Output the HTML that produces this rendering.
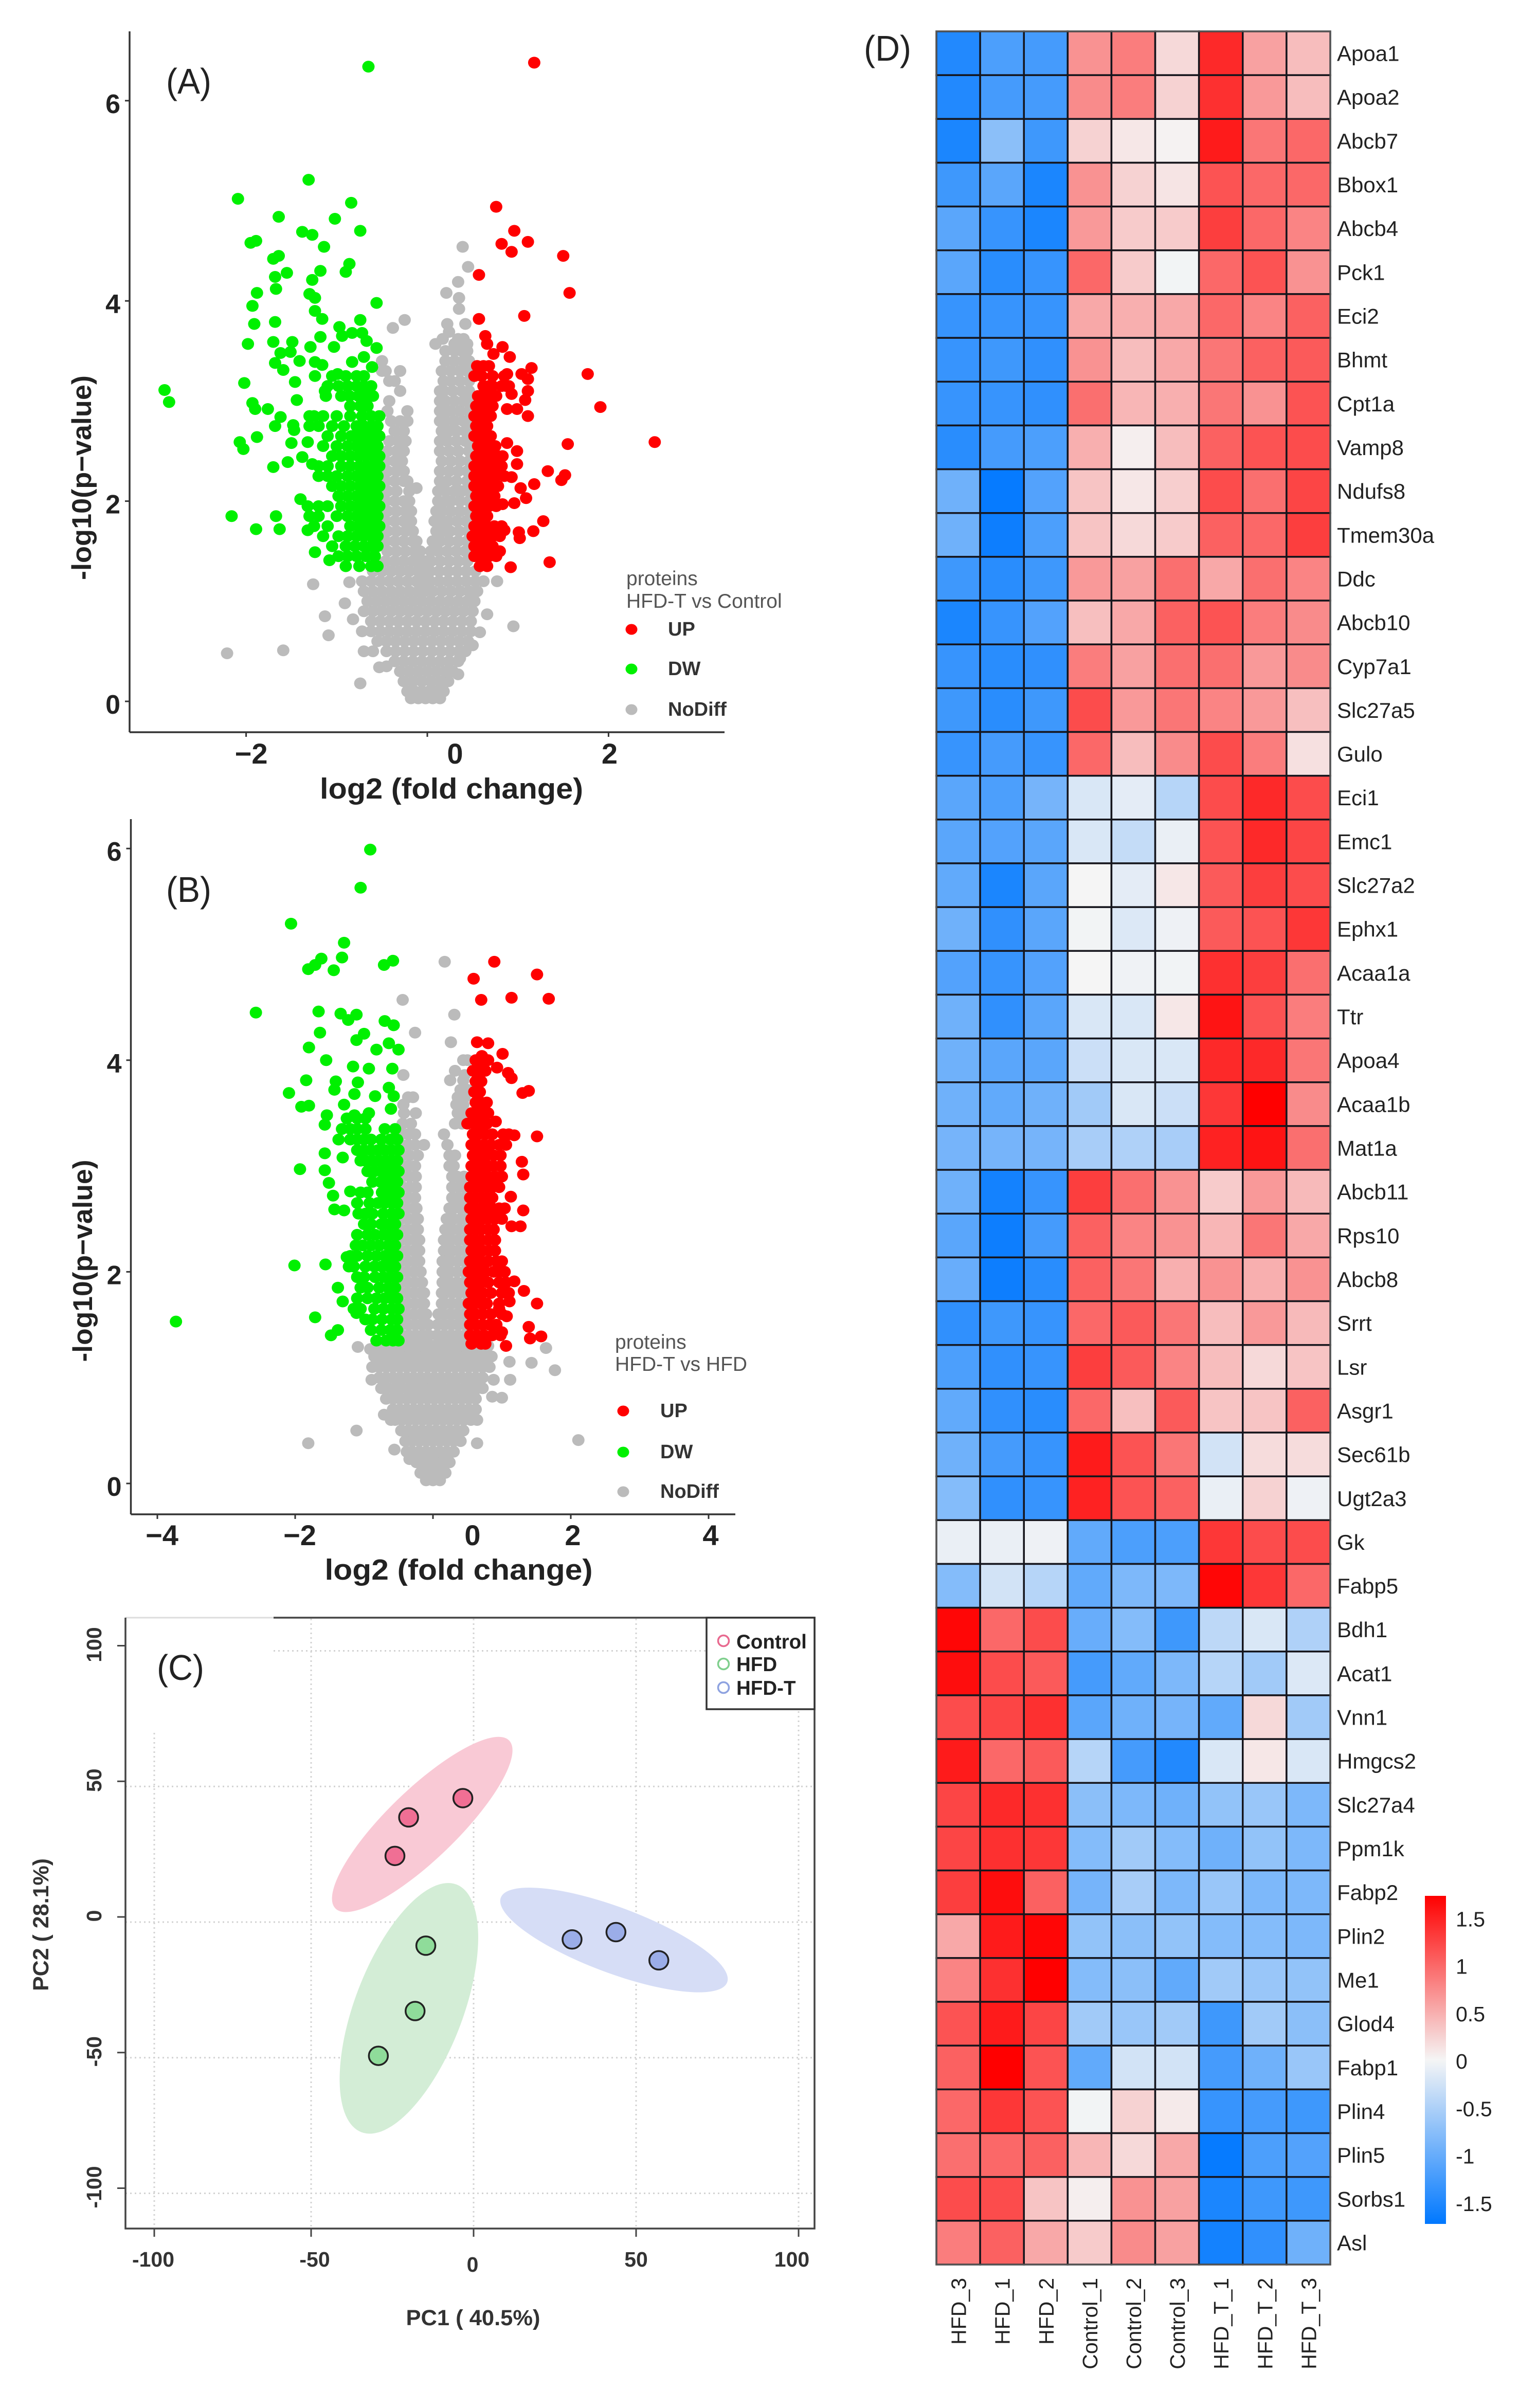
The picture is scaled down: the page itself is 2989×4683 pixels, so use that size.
<!DOCTYPE html>
<html lang="en">
<head>
<meta charset="utf-8">
<title>Volcano plots, PCA and heatmap</title>
<style>
html,body{margin:0;padding:0;background:#fff;}
svg{display:block;font-family:"Liberation Sans",sans-serif;}
</style>
</head>
<body>
<svg id="figure" xmlns="http://www.w3.org/2000/svg" width="2989" height="4683" viewBox="0 0 2989 4683">
<defs><linearGradient id="cbGrad" x1="0" y1="0" x2="0" y2="1"></linearGradient></defs>
<rect width="2989" height="4683" fill="#fff"/>

<g id="panelA">
  <g id="dotsA"></g>
  <line x1="252" y1="61" x2="252" y2="1424" stroke="#333" stroke-width="3.5"/>
  <line x1="252" y1="1424" x2="1409" y2="1424" stroke="#333" stroke-width="3.5"/>
  <g id="ticksA"></g>
  <text x="323" y="182" font-size="70" textLength="88" lengthAdjust="spacingAndGlyphs" fill="#222">(A)</text>
  <text x="878" y="1553" font-size="57" font-weight="bold" text-anchor="middle" textLength="512" lengthAdjust="spacingAndGlyphs" fill="#222">log2 (fold change)</text>
  <text transform="translate(177,929) rotate(-90)" font-size="53" font-weight="bold" text-anchor="middle" textLength="398" lengthAdjust="spacingAndGlyphs" fill="#222">-log10(p−value)</text>
  <g>
    <text x="1218" y="1138" font-size="39" fill="#555">proteins</text>
    <text x="1218" y="1182" font-size="39" fill="#555">HFD-T vs Control</text>
    <ellipse cx="1228" cy="1224" rx="11.5" ry="10.5" fill="#ff0000"/>
    <text x="1299" y="1236" font-size="38" font-weight="bold" fill="#333">UP</text>
    <ellipse cx="1228" cy="1301" rx="11.5" ry="10.5" fill="#00f000"/>
    <text x="1299" y="1313" font-size="38" font-weight="bold" fill="#333">DW</text>
    <ellipse cx="1228" cy="1380" rx="11.5" ry="10.5" fill="#bbb"/>
    <text x="1299" y="1392" font-size="38" font-weight="bold" fill="#333">NoDiff</text>
  </g>
</g>

<g id="panelB">
  <g id="dotsB"></g>
  <line x1="254.5" y1="1593" x2="254.5" y2="2945" stroke="#333" stroke-width="3.5"/>
  <line x1="254.5" y1="2945" x2="1430" y2="2945" stroke="#333" stroke-width="3.5"/>
  <g id="ticksB"></g>
  <text x="323" y="1754" font-size="70" textLength="88" lengthAdjust="spacingAndGlyphs" fill="#222">(B)</text>
  <text x="892" y="3072" font-size="57" font-weight="bold" text-anchor="middle" textLength="521" lengthAdjust="spacingAndGlyphs" fill="#222">log2 (fold change)</text>
  <text transform="translate(179,2452) rotate(-90)" font-size="53" font-weight="bold" text-anchor="middle" textLength="393" lengthAdjust="spacingAndGlyphs" fill="#222">-log10(p−value)</text>
  <g>
    <text x="1196" y="2623" font-size="39" fill="#555">proteins</text>
    <text x="1196" y="2666" font-size="39" fill="#555">HFD-T vs HFD</text>
    <ellipse cx="1212" cy="2744" rx="11.5" ry="10.5" fill="#ff0000"/>
    <text x="1284" y="2756" font-size="38" font-weight="bold" fill="#333">UP</text>
    <ellipse cx="1212" cy="2824" rx="11.5" ry="10.5" fill="#00f000"/>
    <text x="1284" y="2836" font-size="38" font-weight="bold" fill="#333">DW</text>
    <ellipse cx="1212" cy="2901" rx="11.5" ry="10.5" fill="#bbb"/>
    <text x="1284" y="2913" font-size="38" font-weight="bold" fill="#333">NoDiff</text>
  </g>
</g>

<g id="panelC">
  <g id="gridC"></g>
  <g id="ellipsesC"></g>
  <g id="pointsC"></g>
  <line x1="244" y1="3146" x2="532" y2="3146" stroke="#ddd" stroke-width="3"/>
  <polyline points="532,3146 1584,3146 1584,4334 244,4334 244,3146" fill="none" stroke="#444" stroke-width="3.5"/>
  <g id="ticksC"></g>
  <text x="305" y="3267" font-size="70" textLength="92" lengthAdjust="spacingAndGlyphs" fill="#222">(C)</text>
  <text x="920" y="4522" font-size="43" font-weight="bold" text-anchor="middle" textLength="261" lengthAdjust="spacingAndGlyphs" fill="#333">PC1 ( 40.5%)</text>
  <text transform="translate(94,3743) rotate(-90)" font-size="43" font-weight="bold" text-anchor="middle" textLength="258" lengthAdjust="spacingAndGlyphs" fill="#333">PC2 ( 28.1%)</text>
  <g>
    <rect x="1374" y="3146" width="210" height="178" fill="#fff" stroke="#333" stroke-width="3.5"/>
    <circle cx="1407" cy="3191" r="10.5" fill="none" stroke="#e8698f" stroke-width="3.5"/>
    <text x="1432" y="3206" font-size="38.5" font-weight="bold" fill="#222">Control</text>
    <circle cx="1407" cy="3236" r="10.5" fill="none" stroke="#7fcf8d" stroke-width="3.5"/>
    <text x="1432" y="3250" font-size="38.5" font-weight="bold" fill="#222">HFD</text>
    <circle cx="1407" cy="3282" r="10.5" fill="none" stroke="#8ea2e0" stroke-width="3.5"/>
    <text x="1432" y="3296" font-size="38.5" font-weight="bold" fill="#222">HFD-T</text>
  </g>
</g>

<g id="panelD">
  <text x="1680" y="118" font-size="70" textLength="92" lengthAdjust="spacingAndGlyphs" fill="#222">(D)</text>
  <g id="heatCells"></g>
  <rect x="1821" y="61" width="766" height="4343" fill="none" stroke="#555" stroke-width="3"/>
  <g id="heatRowLabels"></g>
  <g id="heatColLabels"></g>
  <rect x="2771" y="3687" width="41" height="638" fill="url(#cbGrad)"/>
  <g id="cbLabels"></g>
</g>
</svg>

<script>
// ---------- Volcano A data: each row is [-log10(p), log2FC, log2FC, ...] ----------
const ticksAX = [-2, 0, 2];
const ticksAY = [0, 2, 4, 6];
const grayA = [
[0.03,-0.18,-0.1,-0.02,0.06,0.14],
[0.1,-0.22,-0.14,-0.06,0.02,0.1,0.18],
[0.2,-0.26,-0.16,-0.06,0.04,0.14,0.23],
[0.3,-0.3,-0.2,-0.1,0,0.1,0.2,0.28],
[0.4,-0.36,-0.26,-0.16,-0.06,0.04,0.14,0.24,0.34],
[0.5,-0.45,-0.35,-0.25,-0.15,-0.05,0.05,0.15,0.25,0.35,0.42,-0.7,-0.6],
[0.6,-0.55,-0.45,-0.35,-0.25,-0.15,-0.05,0.05,0.15,0.25,0.35,0.45],
[0.7,-0.72,-0.62,-0.52,-0.42,-0.32,-0.22,-0.12,-0.02,0.08,0.18,0.28,0.38,0.48],
[0.8,-0.62,-0.52,-0.42,-0.32,-0.22,-0.12,-0.02,0.08,0.18,0.28,0.38,0.48],
[0.9,-0.7,-0.6,-0.5,-0.4,-0.3,-0.2,-0.1,0,0.1,0.2,0.3,0.4,0.5],
[1.0,-0.66,-0.56,-0.46,-0.36,-0.26,-0.16,-0.06,0.04,0.14,0.24,0.34,0.44,0.52],
[1.1,-0.7,-0.6,-0.5,-0.4,-0.3,-0.2,-0.1,-0.03,0.06,0.16,0.26,0.36,0.46,0.55],
[1.2,-0.72,-0.62,-0.52,-0.42,-0.32,-0.22,-0.12,-0.04,0.03,0.13,0.23,0.33,0.43,0.53,0.62],
[1.3,-0.6,-0.5,-0.4,-0.3,-0.2,-0.1,-0.03,0.03,0.13,0.23,0.33,0.43,0.53],
[1.4,-0.46,-0.36,-0.26,-0.16,-0.08,-0.02,0.04,0.14,0.24,0.34,0.44],
[1.5,-0.44,-0.34,-0.24,-0.14,-0.08,0.04,0.12,0.22,0.32,0.42],
[1.6,-0.46,-0.36,-0.26,-0.16,-0.12,0.06,0.14,0.24,0.34,0.44],
[1.7,-0.44,-0.34,-0.24,-0.16,0.1,0.18,0.25,0.35,0.45],
[1.8,-0.46,-0.36,-0.26,-0.18,0.08,0.16,0.23,0.33,0.43],
[1.9,-0.44,-0.34,-0.24,-0.18,0.1,0.16,0.26,0.36,0.46],
[2.0,-0.46,-0.36,-0.26,-0.2,0.12,0.2,0.26,0.36,0.46],
[2.1,-0.44,-0.34,-0.2,0.12,0.2,0.3,0.38,0.46],
[2.13,-0.12],
[2.2,-0.46,-0.36,-0.26,-0.22,0.14,0.22,0.32,0.44],
[2.3,-0.44,-0.34,-0.26,0.14,0.24,0.34,0.44],
[2.4,-0.46,-0.36,-0.28,0.16,0.26,0.36,0.46],
[2.5,-0.44,-0.34,-0.26,0.14,0.24,0.34,0.46],
[2.6,-0.42,-0.32,-0.24,0.14,0.22,0.32,0.42,0.46],
[2.7,-0.36,-0.26,0.16,0.24,0.32,0.42,0.48],
[2.8,-0.4,-0.3,-0.22,0.14,0.2,0.3,0.4,0.48],
[2.9,-0.44,-0.22,0.14,0.2,0.26,0.36,0.46],
[3.0,-0.42,0.14,0.2,0.3,0.4,0.46],
[3.1,-0.3,0.14,0.18,0.28,0.38,0.46],
[3.2,-0.42,-0.36,0.18,0.26,0.36,0.46],
[3.3,-0.5,-0.46,-0.3,0.16,0.26,0.36,0.44],
[3.4,-0.5,0.2,0.3,0.4,0.46],
[3.5,0.2,0.3,0.38,0.44],
[3.57,0.09,0.3,0.38,0.44],
[3.62,0.17,0.34,0.4],
[3.69,0.24],
[3.73,-0.38],
[3.77,0.22,0.42],
[3.81,-0.25],
[3.92,0.35],
[4.03,0.35],
[4.08,0.21],
[4.19,0.34],
[4.34,0.45],
[4.54,0.39],
[1.19,-0.86],[1.17,-1.26],[0.98,-0.91],[0.85,-1.13],[0.66,-1.09],[0.82,-0.82],[0.48,-2.21],[0.51,-1.59],
[0.18,-0.74],[0.34,-0.53],[0.35,-0.45],[0.75,0.95],[0.87,0.66],[1.2,0.77],[0.69,0.58],[0.56,0.5],[0.27,0.34],[0.43,0.36]
];
const downA = [
[6.34,-0.65],[5.21,-1.31],[5.02,-2.09],[4.98,-0.84],[4.84,-1.64],[4.82,-1.02],[4.7,-0.74],[4.69,-1.38],[4.66,-1.27],
[4.6,-1.89],[4.58,-1.95],[4.54,-1.14],[4.45,-1.64],[4.42,-1.7],[4.37,-0.86],[4.29,-0.9],[4.3,-1.18],[4.28,-1.55],
[4.24,-1.68],[4.21,-1.27],[4.12,-1.67],[4.08,-1.88],[4.07,-1.3],[4.03,-1.24],[3.98,-0.56],[3.95,-1.93],[3.9,-1.24],
[3.82,-1.16],[3.79,-1.68],[3.77,-1.91],[3.81,-0.74],[3.74,-0.97],[3.57,-1.98],[3.59,-1.7,-1.49],[3.64,-1.18],
[3.54,-1.29,-1.03],[3.65,-0.94],[3.68,-0.83,-0.72],[3.6,-0.67],[3.53,-0.56],[3.48,-1.62],[3.49,-1.51],[3.38,-1.68],
[3.4,-1.41],[3.39,-1.24,-0.83],[3.36,-1.16],[3.31,-1.59],[3.44,-0.7],[3.34,-0.61],[3.27,-0.99],[3.25,-1.24],[3.19,-1.46],
[3.18,-2.02],[3.11,-2.9],[2.99,-2.85],[3.01,-1.44],[3.1,-1.13],[2.98,-1.93],[2.92,-1.9,-1.76],[2.84,-1.62],[2.75,-1.68],
[2.76,-1.48],[2.71,-1.47],[2.64,-1.88],[2.59,-2.07,-1.32],[2.52,-2.03],[2.58,-1.5],[2.34,-1.7],[2.39,-1.54],[2.44,-1.38],
[2.37,-1.27],[1.85,-2.16,-1.67],[1.72,-1.89,-1.63],[2.02,-1.4],[1.95,-1.32],[1.71,-1.32],[1.49,-1.24],[1.41,-1.08],
[3.25,-0.7,-0.78,-0.9,-1.05],
[3.15,-0.62,-0.7,-0.78,-0.88,-0.98,-1.1],
[3.05,-0.6,-0.68,-0.76,-0.86,-0.95,-1.12],
[2.95,-0.66,-0.74,-0.85],
[2.85,-0.53,-0.62,-0.72,-0.85,-1,-1.15,-1.25,-1.3],
[2.75,-0.55,-0.62,-0.7,-0.78,-0.92,-1.05,-1.2,-1.3],
[2.65,-0.53,-0.6,-0.68,-0.76,-0.84,-0.95,-1.1],
[2.55,-0.55,-0.62,-0.7,-0.78,-0.88,-1,-1.15],
[2.45,-0.53,-0.6,-0.68,-0.76,-0.85,-0.95,-1.05],
[2.35,-0.53,-0.6,-0.67,-0.75,-0.85,-0.95,-1.1,-1.2],
[2.25,-0.55,-0.62,-0.7,-0.78,-0.88,-1,-1.1,-1.2],
[2.15,-0.53,-0.6,-0.67,-0.75,-0.85,-0.95,-1.05],
[2.05,-0.55,-0.62,-0.7,-0.78,-0.88,-0.98],
[1.95,-0.53,-0.6,-0.68,-0.76,-0.85,-0.95,-1.1,-1.2],
[1.85,-0.55,-0.62,-0.7,-0.78,-0.88,-1,-1.2,-1.3],
[1.75,-0.53,-0.6,-0.68,-0.76,-0.85,-1.1,-1.25],
[1.65,-0.55,-0.62,-0.7,-0.78,-0.88,-0.98,-1.15],
[1.55,-0.55,-0.62,-0.7,-0.8,-0.9,-1.05],
[1.45,-0.58,-0.68,-0.78,-0.88,-0.98],
[1.35,-0.55,-0.62,-0.75,-0.9]
];
const upA = [
[6.38,1.18],[4.94,0.76],[4.7,0.96],[4.59,1.11],[4.57,0.82],[4.49,0.93],[4.45,1.5],[4.08,1.57],[4.26,0.57],[3.85,1.07],
[3.82,0.57],[3.65,0.64],[3.57,0.66],[3.54,0.83],[3.44,0.91],[3.47,0.73],[3.27,1.77],[2.94,1.91],[2.59,2.51],[2.57,1.55],
[2.3,1.33],[2.26,1.52],[2.21,1.48],[2.17,1.18],[1.8,1.28],[1.7,1.17],[1.39,1.35],[1.34,0.92],
[3.33,1.15],[3.27,1.04,0.88],[3.22,1.11],[3.1,1.11],[3.01,1.08],[2.85,1.11],[2.92,0.99,0.88],[3.07,0.93],[3.15,0.87],
[2.58,0.88],[2.5,0.99],[2.37,0.99],[2.45,0.83],[2.24,0.93],[2.13,1.03],[2.03,1.09],[1.98,0.96],[1.97,0.83],[1.69,1.01],
[1.63,1.02],[1.71,0.85],[1.5,0.8],
[3.35,0.55,0.62,0.68],
[3.25,0.52,0.6,0.72,0.85],
[3.15,0.62,0.68,0.72,0.82,0.9],
[3.05,0.56,0.62,0.68,0.76],
[2.95,0.54,0.6,0.66,0.72],
[2.85,0.52,0.58,0.64,0.7],
[2.75,0.54,0.6,0.66],
[2.65,0.52,0.58,0.64,0.7],
[2.55,0.56,0.62,0.68,0.75],
[2.45,0.54,0.6,0.66,0.72,0.78],
[2.35,0.52,0.58,0.64,0.7,0.76,0.82],
[2.25,0.52,0.58,0.64,0.7,0.76,0.85],
[2.15,0.52,0.58,0.64,0.7,0.78],
[2.05,0.54,0.6,0.66,0.74],
[1.95,0.52,0.6,0.68,0.76],
[1.85,0.54,0.6,0.66],
[1.75,0.52,0.58,0.66,0.74,0.82],
[1.65,0.5,0.58,0.64,0.72,0.8],
[1.55,0.52,0.58,0.66,0.72],
[1.45,0.52,0.6,0.68,0.76],
[1.35,0.58,0.66]
];

// ---------- Volcano B data ----------
const ticksBX = [-4, -2, 0, 2, 4];
const ticksBY = [0, 2, 4, 6];
const grayB = [
[0.03,-0.1,0,0.1],
[0.1,-0.18,-0.08,0.02,0.12,0.18],
[0.2,-0.24,-0.14,-0.04,0.06,0.16,0.24],
[0.3,-0.38,-0.3,-0.2,-0.1,0,0.1,0.2,0.3],
[0.4,-0.4,-0.3,-0.2,-0.1,0,0.1,0.2,0.3,0.4],
[0.5,-0.46,-0.36,-0.26,-0.16,-0.06,0.04,0.14,0.24,0.34,0.44],
[0.6,-0.55,-0.45,-0.35,-0.25,-0.15,-0.05,0.05,0.15,0.25,0.35,0.45,0.55],
[0.7,-0.58,-0.48,-0.38,-0.28,-0.18,-0.08,0.02,0.12,0.22,0.32,0.42,0.52,0.62],
[0.8,-0.68,-0.58,-0.48,-0.38,-0.28,-0.18,-0.08,0.02,0.12,0.22,0.32,0.42,0.52,0.62],
[0.9,-0.75,-0.65,-0.55,-0.45,-0.35,-0.25,-0.15,-0.05,0.05,0.15,0.25,0.35,0.45,0.55,0.65,0.72],
[1.0,-0.78,-0.68,-0.58,-0.48,-0.38,-0.28,-0.18,-0.08,0.02,0.12,0.22,0.32,0.42,0.52,0.62,0.72],
[1.1,-0.88,-0.78,-0.68,-0.58,-0.48,-0.38,-0.28,-0.18,-0.08,0.02,0.12,0.22,0.32,0.42,0.52,0.62,0.72,0.82],
[1.2,-0.85,-0.75,-0.65,-0.55,-0.45,-0.35,-0.25,-0.15,-0.05,0.05,0.15,0.25,0.35,0.45,0.55,0.65,0.75,0.85],
[1.3,-0.8,-0.7,-0.6,-0.5,-0.4,-0.3,-0.2,-0.1,0,0.1,0.2,0.3,0.4,0.5,0.6,0.7,0.8],
[1.4,-0.45,-0.35,-0.25,-0.15,-0.06,0.06,0.16,0.26,0.36,0.46],
[1.5,-0.46,-0.36,-0.26,-0.16,-0.07,0.07,0.17,0.27,0.37,0.47],
[1.6,-0.48,-0.38,-0.28,-0.18,-0.1,0.08,0.15,0.25,0.35,0.45],
[1.7,-0.46,-0.36,-0.26,-0.16,-0.13,0.13,0.17,0.27,0.37,0.47],
[1.8,-0.48,-0.38,-0.28,-0.18,-0.13,0.13,0.18,0.28,0.38,0.48],
[1.9,-0.46,-0.36,-0.26,-0.16,0.14,0.2,0.25,0.35,0.45],
[2.0,-0.48,-0.38,-0.28,-0.18,0.14,0.2,0.25,0.35,0.45],
[2.1,-0.46,-0.36,-0.26,-0.2,0.14,0.2,0.26,0.36,0.46],
[2.2,-0.48,-0.38,-0.28,-0.2,0.16,0.22,0.28,0.38,0.48],
[2.3,-0.46,-0.36,-0.26,-0.2,0.16,0.22,0.26,0.36,0.46],
[2.4,-0.48,-0.38,-0.28,-0.22,0.18,0.24,0.28,0.38,0.48],
[2.5,-0.46,-0.36,-0.26,-0.22,0.2,0.26,0.3,0.4,0.48],
[2.6,-0.48,-0.38,-0.28,-0.24,0.24,0.3,0.4,0.5],
[2.7,-0.46,-0.36,-0.26,0.28,0.36,0.46],
[2.8,-0.44,-0.34,-0.25,0.28,0.38,0.46],
[2.9,-0.44,-0.34,-0.25,0.28,0.35,0.45],
[3.0,-0.46,-0.36,-0.26,0.24,0.3],
[3.1,-0.44,-0.34,-0.22,0.24,0.32],
[3.2,-0.46,-0.36,-0.26,-0.13,0.21],
[3.3,-0.46,-0.36,-0.26,0.16],
[3.4,-0.44,-0.32,0.32,0.42],
[3.5,-0.42,-0.25,0.36,0.46],
[3.58,-0.43,0.34,0.44],
[3.65,-0.36,-0.29,0.36,0.46],
[3.72,0.4,0.5],
[3.81,0.44,0.25],
[3.86,-0.43,0.46],
[3.9,0.32],
[4.0,0.44,0.5],
[4.17,0.26],
[4.26,-0.26],
[4.43,0.31],
[4.57,-0.44],
[4.93,0.17],
[1.29,-1.09],[1.27,-0.91],[1.15,1.11],[1.14,1.43],[1.28,1.64],[1.07,1.77],[0.98,1.12,0.88,-0.89],[0.81,1],[0.82,0.86],
[0.65,-0.71],[0.6,-0.61,0.64],[0.5,-1.11],[0.38,-1.81,0.64],[0.32,-0.56],[0.41,2.11],[0.23,-0.34]
];
const downB = [
[5.99,-0.91],[5.63,-1.05],[5.29,-2.06],[5.11,-1.29],[4.97,-1.32],[4.96,-1.62],[4.9,-1.71,-0.71],[4.86,-1.81],[4.85,-1.44],
[4.94,-0.58],[4.45,-2.57],[4.46,-1.66],[4.44,-1.34],[4.43,-1.11],[4.38,-1.23],[4.37,-0.7],[4.33,-0.57],[4.26,-1.64],
[4.25,-1],[4.19,-1.11],[4.12,-1.8],[4.16,-0.64],[4.1,-0.82,-0.5],[4,-1.55],[3.94,-1.16],[3.92,-0.93,-0.59],[3.81,-1.84],
[3.8,-1.41],[3.79,-1.09],[3.74,-0.64],[3.69,-2.09],[3.72,-1.43],[3.68,-1.14],[3.66,-0.84,-0.57],[3.56,-1.91],[3.57,-1.8],
[3.58,-1.29],[3.54,-0.61],[3.48,-1.54,-1.14],[3.39,-1.57],[3.5,-0.93],[3.25,-1.37],[3.12,-1.57],[3.08,-1.31],[2.97,-1.93],
[2.96,-1.57],[2.84,-1.51],[2.72,-1.45],[2.59,-1.43],[2.58,-1.29],[2.76,-1.2],[2.06,-2.01],[2.07,-1.56],[2.14,-1.25],
[1.85,-1.38],[1.72,-1.31],[1.57,-1.71],[1.61,-1.11],[1.45,-1.38],[1.4,-1.48],[1.53,-3.73],
[3.45,-0.98,-1.1,-1.25],
[3.35,-0.55,-0.7,-0.98,-1.1,-1.2,-1.32],
[3.25,-0.52,-0.62,-0.75,-0.9,-1,-1.1,-1.2],
[3.15,-0.5,-0.6,-0.7,-0.8,-0.9,-1,-1.1],
[3.05,-0.52,-0.6,-0.68,-0.78,-0.88,-0.98,-1.05],
[2.95,-0.5,-0.58,-0.66,-0.75,-0.85,-0.95],
[2.85,-0.52,-0.6,-0.68,-0.76,-0.88],
[2.75,-0.5,-0.58,-0.66,-0.74,-0.95,-1.05],
[2.65,-0.52,-0.6,-0.7,-0.8,-0.92,-1.1],
[2.55,-0.5,-0.6,-0.72,-0.88,-0.98,-1.08],
[2.45,-0.55,-0.65,-0.75,-0.9,-1],
[2.35,-0.52,-0.62,-0.72,-0.84,-0.95,-1.1],
[2.25,-0.55,-0.65,-0.78,-0.9,-1.02,-1.12],
[2.15,-0.52,-0.6,-0.7,-0.82,-0.95,-1.1,-1.2],
[2.05,-0.55,-0.64,-0.74,-0.85,-0.98,-1.15,-1.22],
[1.95,-0.52,-0.62,-0.72,-0.84,-1,-1.1],
[1.85,-0.55,-0.65,-0.78,-0.95,-1.05],
[1.75,-0.52,-0.6,-0.7,-0.82,-0.95,-1.1],
[1.65,-0.5,-0.6,-0.72,-0.85,-1.05,-1.15],
[1.55,-0.52,-0.6,-0.74,-0.88,-0.98],
[1.45,-0.52,-0.62,-0.75,-0.9],
[1.35,-0.5,-0.58,-0.68,-0.82]
];
const upB = [
[4.93,0.89],[4.81,1.51],[4.77,0.59],[4.57,0.7],[4.59,1.14],[4.58,1.68],[3.28,1.51],[3.71,1.39],[3.69,1.3],[3.83,1.14],
[3.88,1.09],[4.06,1.01],[3.93,0.93],[4.17,0.64],[4.16,0.8],[4.04,0.71],[3.42,0.91],[3.29,1.18],[3.04,1.29],[2.92,1.31],
[2.71,1.13],[2.58,1.31],[2.43,1.14,1.27],[1.91,1.18],[1.82,1.32],[1.7,1.51],[1.72,1.11],[1.48,1.39],[1.39,1.57],[1.37,1.41],
[1.3,1.06],[1.65,0.96],[1.58,1.07],[1.43,1],
[4.0,0.62,0.72,0.8],
[3.9,0.58,0.68,0.76],
[3.8,0.62,0.7],
[3.7,0.6,0.68],
[3.6,0.62,0.7,0.78],
[3.5,0.56,0.66,0.74,0.8],
[3.4,0.5,0.6,0.7,0.78],
[3.3,0.58,0.66,0.76,0.86,1.02,1.1],
[3.2,0.56,0.64,0.74,0.84,0.96,1.06],
[3.1,0.58,0.68,0.78,0.88,0.98],
[3.0,0.56,0.64,0.72,0.8,0.88,0.98],
[2.9,0.56,0.64,0.72,0.8,0.9,1],
[2.8,0.54,0.62,0.7,0.78,0.86,0.96],
[2.7,0.54,0.62,0.7,0.78,0.86],
[2.6,0.54,0.62,0.7,0.78,0.86,0.96,1.04],
[2.5,0.56,0.64,0.72,0.8,0.9,1],
[2.4,0.54,0.62,0.7,0.8,0.88],
[2.3,0.54,0.62,0.7,0.8,0.9],
[2.2,0.56,0.64,0.72,0.82,0.9],
[2.1,0.54,0.62,0.7,0.8,0.92,1],
[2.0,0.52,0.6,0.68,0.76,0.88,0.96,1.04],
[1.9,0.54,0.62,0.7,0.8,0.96,1.06],
[1.8,0.56,0.64,0.72,0.84,1,1.1],
[1.7,0.52,0.6,0.7,0.78,0.96],
[1.6,0.54,0.62,0.72,0.84,1],
[1.5,0.54,0.62,0.72,0.82,0.92],
[1.4,0.54,0.64,0.74,0.86,0.98],
[1.32,0.56,0.7,0.76]
];

// ---------- PCA data ----------
const pcaTicksX = [-100, -50, 0, 50, 100];
const pcaTicksY = [-100, -50, 0, 50, 100];
const pcaControlPC1 = [-3.3, -20, -24.2];
const pcaControlPC2 = [43.8, 36.7, 22.5];
const pcaHfdPC1 = [-14.7, -18, -29.3];
const pcaHfdPC2 = [-10.6, -34.7, -51.2];
const pcaHfdTPC1 = [30.3, 43.8, 57];
const pcaHfdTPC2 = [-8.3, -5.6, -16];
const pcaEllipseCenterPC1 = [-15.8, -19.9, 43.2];
const pcaEllipseCenterPC2 = [34.1, -33.7, -8.5];

// ---------- Heatmap data ----------
const heatCols = ["HFD_3","HFD_1","HFD_2","Control_1","Control_2","Control_3","HFD_T_1","HFD_T_2","HFD_T_3"];
const heatRows = ["Apoa1","Apoa2","Abcb7","Bbox1","Abcb4","Pck1","Eci2","Bhmt","Cpt1a","Vamp8","Ndufs8","Tmem30a","Ddc","Abcb10","Cyp7a1","Slc27a5","Gulo","Eci1","Emc1","Slc27a2","Ephx1","Acaa1a","Ttr","Apoa4","Acaa1b","Mat1a","Abcb11","Rps10","Abcb8","Srrt","Lsr","Asgr1","Sec61b","Ugt2a3","Gk","Fabp5","Bdh1","Acat1","Vnn1","Hmgcs2","Slc27a4","Ppm1k","Fabp2","Plin2","Me1","Glod4","Fabp1","Plin4","Plin5","Sorbs1","Asl"];
const heatValues = [
[-1.5,-1.2,-1.25,0.7,0.85,0.2,1.45,0.6,0.4],
[-1.5,-1.25,-1.25,0.75,0.85,0.25,1.4,0.65,0.4],
[-1.55,-0.75,-1.3,0.25,0.1,0.02,1.55,0.9,1],
[-1.3,-1.1,-1.55,0.7,0.25,0.12,1.15,1,1],
[-1.1,-1.35,-1.55,0.65,0.3,0.3,1.3,1,0.8],
[-1.1,-1.45,-1.35,1,0.3,-0.02,1,1.15,0.7],
[-1.35,-1.35,-1.35,0.55,0.5,0.55,1,0.8,1.05],
[-1.35,-1.3,-1.4,0.7,0.4,0.55,0.9,1.05,1.1],
[-1.35,-1.35,-1.4,0.95,0.45,0.5,0.9,0.7,1.15],
[-1.45,-1.25,-1.2,0.5,0.05,0.4,1.05,1.15,1.2],
[-0.95,-1.7,-1.15,0.35,0.1,0.28,1.2,0.95,1.25],
[-0.95,-1.65,-1.2,0.35,0.2,0.3,1.05,1,1.3],
[-1.3,-1.45,-1.3,0.65,0.6,0.95,0.55,0.95,0.8],
[-1.55,-1.35,-1.15,0.38,0.55,1.05,1.15,0.85,0.75],
[-1.35,-1.45,-1.4,0.85,0.6,0.95,0.95,0.65,0.75],
[-1.3,-1.45,-1.3,1.2,0.65,0.9,0.8,0.65,0.38],
[-1.35,-1.25,-1.35,1,0.4,0.75,1.2,0.85,0.15],
[-1.1,-1.2,-0.9,-0.2,-0.12,-0.45,1.2,1.45,1.2],
[-1.1,-1.15,-1.1,-0.2,-0.35,-0.08,1.15,1.45,1.25],
[-1.05,-1.55,-1.1,0,-0.12,0.1,1.1,1.3,1.2],
[-0.95,-1.4,-1.1,-0.02,-0.18,-0.05,1.1,1.15,1.35],
[-1.15,-1.35,-1.15,0,-0.04,-0.03,1.4,1.3,0.95],
[-0.95,-1.4,-1.1,-0.2,-0.2,0.1,1.6,1.15,0.85],
[-0.95,-1.1,-1.1,-0.3,-0.2,-0.2,1.45,1.45,0.9],
[-0.95,-1.05,-0.95,-0.6,-0.2,-0.3,1.35,1.74,0.75],
[-0.9,-0.9,-0.9,-0.55,-0.5,-0.55,1.5,1.6,0.95],
[-0.95,-1.6,-1.35,1.3,0.95,0.7,0.3,0.65,0.42],
[-1.1,-1.65,-1.25,1.05,0.8,0.7,0.45,0.9,0.55],
[-1,-1.65,-1.45,1.05,0.9,0.5,0.7,0.5,0.7],
[-1.4,-1.3,-1.35,1,1.1,0.9,0.4,0.65,0.42],
[-1.2,-1.4,-1.35,1.3,1.1,0.8,0.4,0.2,0.35],
[-1.05,-1.4,-1.45,1,0.38,1.1,0.35,0.35,1.05],
[-0.95,-1.25,-1.35,1.55,1.15,0.9,-0.25,0.18,0.18],
[-0.8,-1.4,-1.35,1.5,1.15,1.05,-0.08,0.25,-0.05],
[-0.08,-0.08,-0.05,-1.05,-1.2,-1.2,1.35,1.2,1.2],
[-0.8,-0.25,-0.45,-1.05,-0.85,-0.85,1.7,1.35,1],
[1.7,1,1.2,-1,-0.8,-1.3,-0.4,-0.2,-0.5],
[1.65,1.2,1.1,-1.25,-1.05,-0.85,-0.45,-0.6,-0.18],
[1.2,1.25,1.4,-1.1,-0.95,-0.9,-1.05,0.2,-0.6],
[1.55,1,1.1,-0.45,-1.25,-1.5,-0.2,0.1,-0.2],
[1.25,1.45,1.4,-0.75,-0.85,-0.95,-0.7,-0.65,-0.85],
[1.25,1.4,1.35,-0.8,-0.6,-0.8,-0.95,-0.7,-0.85],
[1.3,1.65,1.05,-0.9,-0.55,-0.85,-0.65,-0.85,-0.85],
[0.55,1.55,1.7,-0.7,-0.75,-0.7,-0.8,-0.8,-0.85],
[0.8,1.4,1.74,-0.8,-0.75,-1.05,-0.6,-0.65,-0.7],
[1.15,1.55,1.25,-0.6,-0.65,-0.6,-1.3,-0.6,-0.75],
[1.05,1.74,1.15,-1.05,-0.25,-0.25,-1.25,-0.95,-0.65],
[1,1.35,1.15,-0.02,0.25,0.08,-1.35,-1.25,-1.3],
[0.95,1,1.05,0.45,0.2,0.55,-1.7,-1.2,-1.15],
[1.2,1.2,0.35,0.05,0.7,0.6,-1.55,-1.3,-1.3],
[0.85,1.05,0.55,0.3,0.75,0.6,-1.6,-1.4,-0.95]
];
const colorbarTicks = [1.5, 1, 0.5, 0, -0.5, -1, -1.5];

// ---------- Scales ----------
const xA = v => 831 + v * 176.2;
const yA = v => 1364 - v * 194.7;
const xB = v => 842 + v * 134;
const yB = v => 2885 - v * 205.8;
const xC = v => 921 + v * 6.32;
const yC = v => 3728 - v * 5.275;
const cbY = v => 4008 - v * 184.5;
const heatLeft = 1821, heatTop = 61, cellW = 766 / 9, cellH = 4343 / 51;
const SVGNS = "http://www.w3.org/2000/svg";

function mk(tag, parent, attrs) {
  const el = document.createElementNS(SVGNS, tag);
  Object.keys(attrs).forEach(k => el.setAttribute(k, attrs[k]));
  parent.appendChild(el);
  return el;
}
function fmt(v) { return String(v).replace("-", "\u2212"); }
function heatColor(v) {
  const t = Math.min(1, Math.abs(v) / 1.74);
  const base = [245, 245, 245];
  const end = v >= 0 ? [255, 0, 0] : [0, 120, 255];
  const c = base.map((b, i) => Math.round(b + (end[i] - b) * t));
  return "rgb(" + c.join(",") + ")";
}

// ---------- Volcano drawing ----------
function drawDots(groupId, rows, xS, yS, color, name) {
  const g = document.getElementById(groupId);
  rows.forEach(row => {
    for (let i = 1; i < row.length; i++) {
      const el = mk("ellipse", g, {cx: xS(row[i]), cy: yS(row[0]), rx: 12, ry: 11.5, fill: color});
      
      
    }
  });
}
function drawVolcanoTicks(groupId, xTicks, yTicks, xS, yS, axisX, axisY, xLabelY, nudge, prefix) {
  const g = document.getElementById(groupId);
  xTicks.forEach(v => {
    const t = mk("line", g, {x1: xS(v), x2: xS(v), y1: axisY, y2: axisY + 9, stroke: "#333", "stroke-width": 3});
    
    
    const l = mk("text", g, {x: xS(v) + nudge(v), y: xLabelY, "font-size": 56, "font-weight": "bold", "text-anchor": "middle", fill: "#222"});
    l.textContent = fmt(v);
    
    
  });
  yTicks.forEach(v => {
    const t = mk("line", g, {x1: axisX - 9, x2: axisX, y1: yS(v), y2: yS(v), stroke: "#333", "stroke-width": 3});
    
    
    const l = mk("text", g, {x: axisX - 18, y: yS(v) + 24, "font-size": 52, "font-weight": "bold", "text-anchor": "end", fill: "#222"});
    l.textContent = String(v);
    
    
  });
}
drawDots("dotsA", grayA, xA, yA, "#bbbbbb", "a-nodiff-point");
drawDots("dotsA", downA, xA, yA, "#00f000", "a-down-point");
drawDots("dotsA", upA, xA, yA, "#ff0000", "a-up-point");
drawDots("dotsB", grayB, xB, yB, "#bbbbbb", "b-nodiff-point");
drawDots("dotsB", downB, xB, yB, "#00f000", "b-down-point");
drawDots("dotsB", upB, xB, yB, "#ff0000", "b-up-point");
drawVolcanoTicks("ticksA", ticksAX, ticksAY, xA, yA, 252, 1424, 1485, v => v === 0 ? 54 : (v < 0 ? 10 : 2), "a");
drawVolcanoTicks("ticksB", ticksBX, ticksBY, xB, yB, 254.5, 2945, 3005, v => v === 0 ? 77 : (v < 0 ? 9 : 4), "b");

// ---------- PCA drawing ----------
(function () {
  const grid = document.getElementById("gridC");
  const ticks = document.getElementById("ticksC");
  const xNudge = v => v === -100 ? 11 : 0;
  const labelNudge = v => v === -100 ? 9 : v === -50 ? 7 : v === 100 ? -13 : v === 0 ? -2 : 0;
  pcaTicksX.forEach(v => {
    const gl = mk("line", grid, {x1: xC(v) + xNudge(v), x2: xC(v) + xNudge(v), y1: v === -100 ? 3370 : 3148, y2: 4334, stroke: "#d2d2d2", "stroke-width": 3, "stroke-dasharray": "3 6"});
    
    
    const t = mk("line", ticks, {x1: xC(v) + xNudge(v), x2: xC(v) + xNudge(v), y1: 4334, y2: 4350, stroke: "#444", "stroke-width": 3});
    
    
    const l = mk("text", ticks, {x: xC(v) + labelNudge(v), y: v === 0 ? 4418 : 4408, "font-size": 41, "font-weight": "bold", "text-anchor": "middle", fill: "#333"});
    l.textContent = String(v);
    
    
  });
  pcaTicksY.forEach(v => {
    const gl = mk("line", grid, {x1: v === 100 ? 532 : 244, x2: 1584, y1: yC(v) + 10, y2: yC(v) + 10, stroke: "#d2d2d2", "stroke-width": 3, "stroke-dasharray": "3 6"});
    
    
    const t = mk("line", ticks, {x1: 228, x2: 244, y1: yC(v), y2: yC(v), stroke: "#444", "stroke-width": 3});
    
    
    const l = mk("text", ticks, {transform: "translate(197," + (yC(v) - 2) + ") rotate(-90)", "font-size": 41, "font-weight": "bold", "text-anchor": "middle", fill: "#333"});
    l.textContent = String(v);
    
    
  });
  const ell = document.getElementById("ellipsesC");
  const ellStyle = [
    {fill: "#f9c9d5", a: 235, b: 68, rot: -44},
    {fill: "#d3edd6", a: 258, b: 105, rot: -69},
    {fill: "#d6ddf6", a: 235, b: 64, rot: 20.5}
  ];
  pcaEllipseCenterPC1.forEach((cx, i) => {
    const s = ellStyle[i];
    const px = xC(cx), py = yC(pcaEllipseCenterPC2[i]);
    const e = mk("ellipse", ell, {cx: px, cy: py, rx: s.a, ry: s.b, fill: s.fill, transform: "rotate(" + s.rot + " " + px + " " + py + ")"});
    
    
  });
  const pts = document.getElementById("pointsC");
  function drawPca(xs, ys, fill, name) {
    xs.forEach((x, i) => {
      const c = mk("ellipse", pts, {cx: xC(x), cy: yC(ys[i]), rx: 18.5, ry: 18, fill: fill, stroke: "#222", "stroke-width": 3.5});
      
      
    });
  }
  drawPca(pcaControlPC1, pcaControlPC2, "#f06f94", "pca-control-point");
  drawPca(pcaHfdPC1, pcaHfdPC2, "#8fdc9a", "pca-hfd-point");
  drawPca(pcaHfdTPC1, pcaHfdTPC2, "#9bade8", "pca-hfd-t-point");
})();

// ---------- Heatmap drawing ----------
(function () {
  const cells = document.getElementById("heatCells");
  const rl = document.getElementById("heatRowLabels");
  const cl = document.getElementById("heatColLabels");
  heatValues.forEach((row, r) => {
    row.forEach((v, c) => {
      const rc = mk("rect", cells, {x: heatLeft + c * cellW, y: heatTop + r * cellH, width: cellW, height: cellH, fill: heatColor(v), stroke: "#15151c", "stroke-width": 3.5});
      
      
    });
    const t = mk("text", rl, {x: 2600, y: heatTop + (r + 0.5) * cellH + 15, "font-size": 42, fill: "#222"});
    t.textContent = heatRows[r];
    
    
  });
  heatCols.forEach((name, c) => {
    const cx = heatLeft + (c + 0.5) * cellW + 15;
    const t = mk("text", cl, {transform: "translate(" + cx + ",4430) rotate(-90)", "font-size": 41, "text-anchor": "end", fill: "#222"});
    t.textContent = name;
    
    
  });
  const grad = document.getElementById("cbGrad");
  [1.74, 0, -1.74].forEach((v, i) => {
    mk("stop", grad, {offset: (i * 50) + "%", "stop-color": heatColor(v)});
  });
  const cb = document.getElementById("cbLabels");
  colorbarTicks.forEach(v => {
    const t = mk("text", cb, {x: 2831, y: cbY(v) + 15, "font-size": 41, fill: "#222"});
    t.textContent = String(v);
    
    
  });
})();
</script>
</body>
</html>
